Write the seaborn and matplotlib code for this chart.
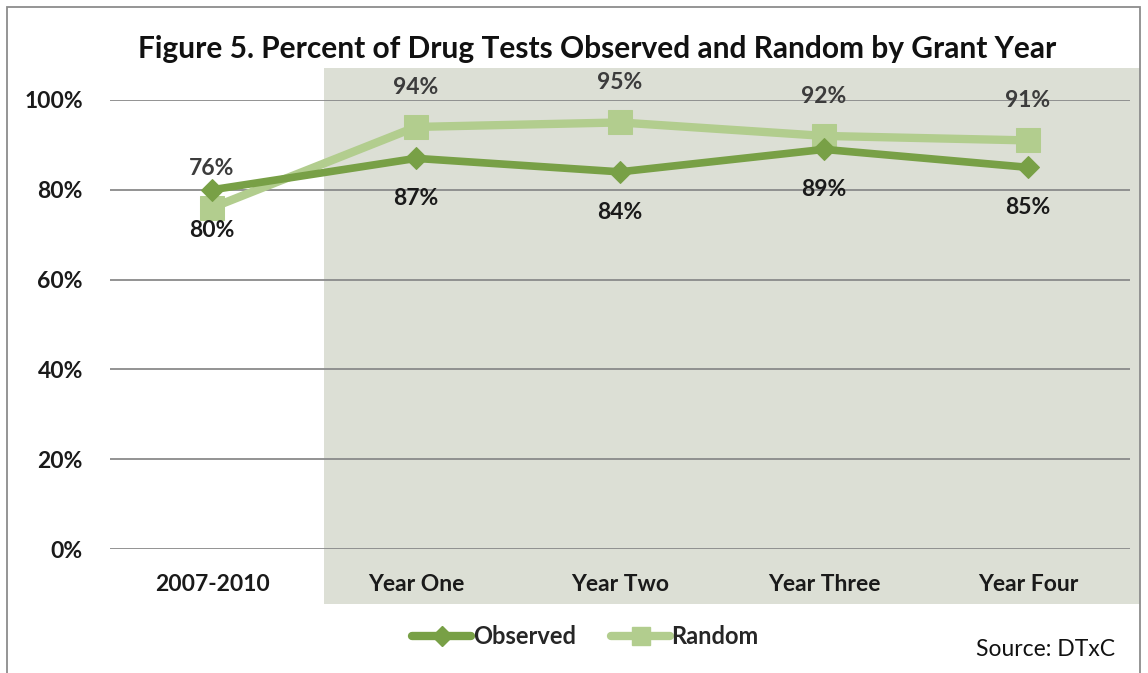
import matplotlib
matplotlib.use("Agg")
import matplotlib.pyplot as plt
from matplotlib.lines import Line2D
from matplotlib.patches import Rectangle
import seaborn as sns
import pandas as pd

# Chart data
CATEGORIES = ["2007-2010", "Year One", "Year Two", "Year Three", "Year Four"]
OBSERVED = [80, 87, 84, 89, 85]
RANDOM = [76, 94, 95, 92, 91]
Y_TICKS = [0, 20, 40, 60, 80, 100]

OBS_COLOR = "#78a046"
RND_COLOR = "#b2cd8e"
SHADE = "#dcdfd5"

sns.set_theme(style="white")
plt.rcParams["font.family"] = ["Lato", "DejaVu Sans"]

fig = plt.figure(figsize=(11.48, 6.73), dpi=100)
ax = fig.add_axes([110 / 1148, 124 / 673, 1020 / 1148, 449 / 673])

df = pd.DataFrame({"x": range(len(CATEGORIES)), "Observed": OBSERVED, "Random": RANDOM})

# shaded grant-year region (extends beyond the axes)
ax.add_patch(Rectangle((0.55, -12.2), 4.0, 119.3, facecolor=SHADE, edgecolor="none",
                       clip_on=False, zorder=0.1))

for v in Y_TICKS:
    ax.axhline(v, color="#8a8a8a", lw=1.3, zorder=0.5)

sns.lineplot(data=df, x="x", y="Random", ax=ax, color=RND_COLOR, lw=6,
             marker="s", markersize=17, markeredgecolor=RND_COLOR, zorder=3)
sns.lineplot(data=df, x="x", y="Observed", ax=ax, color=OBS_COLOR, lw=5.5,
             marker="D", markersize=11, markeredgecolor=OBS_COLOR, zorder=4)

# data labels: observed below, random above
for i, (o, r) in enumerate(zip(OBSERVED, RANDOM)):
    ax.text(i, o - 9.0, f"{o}%", ha="center", va="center", fontsize=16.5,
            fontweight="bold", color="#1a1a1a", zorder=6)
    ax.text(i, r + 8.8, f"{r}%", ha="center", va="center", fontsize=16.5,
            fontweight="bold", color="#3c3c3c", zorder=6)

ax.set_xlim(-0.5, 4.5)
ax.set_ylim(0, 100)
ax.set_xticks(range(len(CATEGORIES)))
ax.set_xticklabels(CATEGORIES, fontsize=16.5, fontweight="bold", color="#1a1a1a")
ax.set_yticks(Y_TICKS)
ax.set_yticklabels([f"{v}%" for v in Y_TICKS], fontsize=16.5, fontweight="bold",
                   color="#1a1a1a")
ax.tick_params(axis="x", length=0, pad=18)
ax.tick_params(axis="y", length=0, pad=19.5)
ax.set_xlabel("")
ax.set_ylabel("")
for s in ax.spines.values():
    s.set_visible(False)
ax.patch.set_alpha(0)

fig.text(0.52, 1 - 49 / 673, "Figure 5. Percent of Drug Tests Observed and Random by Grant Year",
         ha="center", va="center", fontsize=21.5, fontweight="bold", color="#111111")

handles = [
    Line2D([], [], color=OBS_COLOR, lw=6, marker="D", markersize=10,
           markeredgecolor=OBS_COLOR),
    Line2D([], [], color=RND_COLOR, lw=6, marker="s", markersize=13,
           markeredgecolor=RND_COLOR),
]
fig.legend(handles, ["Observed", "Random"], loc="center", bbox_to_anchor=(0.51, 1 - 637 / 673),
           ncol=2, frameon=False, handlelength=2.5, handletextpad=0.05, columnspacing=1.5,
           prop={"weight": "bold", "size": 17})

fig.text(0.971, 1 - 650 / 673, "Source: DTxC", ha="right", va="center", fontsize=16.5,
         color="#111111")

# outer chart frame
fig.add_artist(Rectangle((7 / 1148, -0.05), 1133 / 1148, 1.05 - 7 / 673,
                         transform=fig.transFigure, fill=False,
                         edgecolor="#8c8c8c", lw=1.3))

fig.savefig("out.png", dpi=100)
